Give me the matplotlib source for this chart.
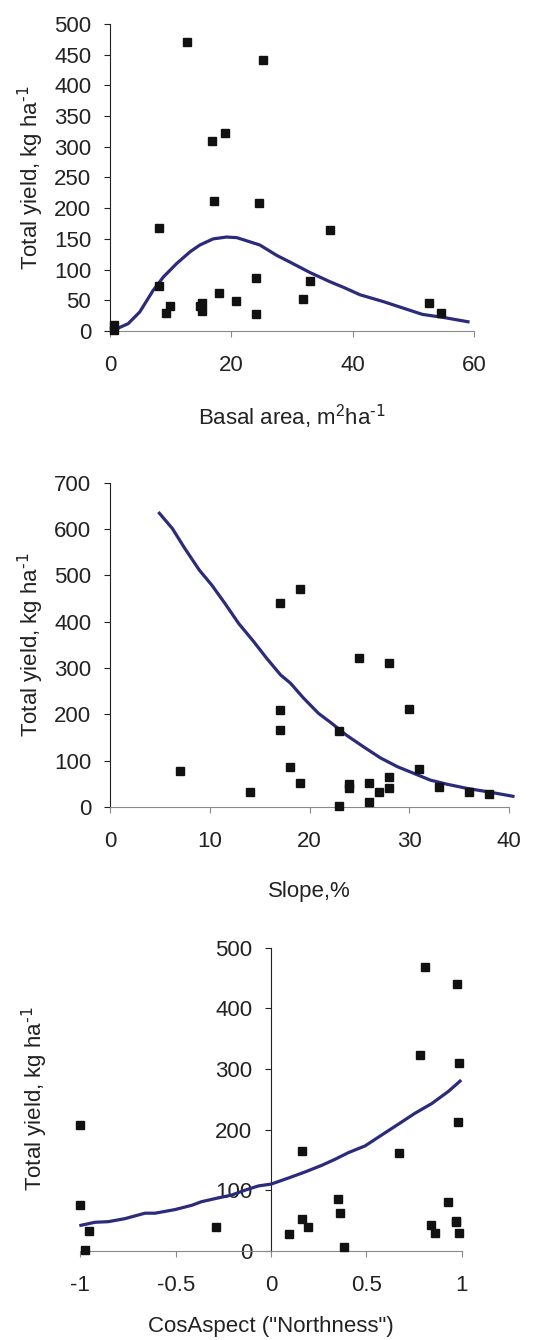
import matplotlib
matplotlib.use("Agg")
import matplotlib.pyplot as plt

plt.rcParams['font.family'] = ['Liberation Sans', 'DejaVu Sans']
plt.rcParams['mathtext.default'] = 'regular'
plt.rcParams['axes.unicode_minus'] = False

# observed points (same 24 plots in each panel)
basal_x = [0.7, 0.7, 8.0, 8.0, 9.2, 9.9, 12.7, 14.8, 15.2, 15.2, 16.8, 17.1,
           18.0, 19.0, 20.8, 24.0, 24.0, 24.6, 25.2, 31.8, 33.0, 36.2, 52.5, 54.6]
basal_y = [9, 1, 167, 74, 30, 40, 470, 40, 46, 33, 310, 211,
           62, 323, 49, 87, 27, 208, 441, 52, 81, 164, 46, 30]

# fitted curve, basal area
basal_fit_x = [0.3, 3, 4.9, 7.1, 8.8, 11, 13.2, 14.8, 17, 19.2, 20.9, 24.7,
               27.5, 29.7, 33, 36.3, 38.5, 41.2, 45, 51.5, 55, 59]
basal_fit_y = [0, 12, 31, 66, 88, 110, 129, 140, 150, 153, 152, 140,
               123, 112, 95, 80, 71, 59, 48, 27, 22, 15]

slope_x = [7, 14, 17, 17, 17, 18, 19, 19, 23, 23, 24, 24,
           25, 26, 26, 27, 28, 28, 28, 30, 31, 33, 36, 38]
slope_y = [78, 32, 440, 209, 166, 86, 470, 52, 163, 2, 49, 40,
           322, 52, 10, 32, 310, 65, 40, 212, 82, 44, 32, 27]

slope_fit_x = [4.95, 6.25, 7.5, 8.96, 10.2, 11.5, 12.9, 14.4, 15.7, 17.1, 18.1,
               19.4, 20.9, 22.2, 23.7, 25.4, 27.1, 28.8, 30.4, 32.1, 33.8,
               35.8, 37.8, 40.4]
slope_fit_y = [634, 601, 558, 511, 479, 440, 396, 357, 321, 285, 267,
               235, 202, 181, 155, 130, 106, 87, 73, 58, 49,
               40, 33, 23]

north_x = [-1.0, -1.0, -0.975, -0.957, -0.287, 0.093, 0.161, 0.161, 0.192,
           0.351, 0.36, 0.381, 0.67, 0.78, 0.808, 0.837, 0.858, 0.928,
           0.969, 0.972, 0.977, 0.979, 0.988, 0.988]
north_y = [207, 75, 1, 33, 40, 27, 165, 52, 40,
           85, 62, 7, 162, 323, 469, 42, 30, 81,
           47, 49, 440, 213, 310, 30]

north_fit_x = [-0.997, -0.923, -0.853, -0.766, -0.661, -0.608, -0.503, -0.416,
               -0.364, -0.294, -0.206, -0.136, -0.066, 0.0, 0.091, 0.178,
               0.266, 0.336, 0.406, 0.493, 0.58, 0.668, 0.755, 0.843, 0.93, 0.991]
north_fit_y = [42, 47, 48, 53, 62, 62, 68, 75,
               81, 86, 92, 100, 107, 110, 120, 130,
               141, 151, 162, 173, 191, 209, 227, 243, 263, 280]

ylab = r'Total yield, kg ha$^{\text{-1}}$'
line_col = '#2b2b7b'
txt_col = '#222222'
fs = 16

fig = plt.figure(figsize=(5.38, 13.4), dpi=100)


def style(ax):
    for s in ['top', 'right']:
        ax.spines[s].set_visible(False)
    ax.spines['left'].set_color(txt_col)
    ax.spines['bottom'].set_color('#8a8a8a')
    ax.tick_params(axis='y', direction='out', length=4.5, width=0.8,
                   color=txt_col, labelsize=fs, pad=9, labelcolor=txt_col)
    ax.tick_params(axis='x', direction='out', length=4.5, width=0.8,
                   color='#8a8a8a', labelsize=fs, pad=13, labelcolor=txt_col)


# panel 1: basal area
ax1 = fig.add_axes([0.2045, 0.7530, 0.6766, 0.2291])
ax1.plot(basal_fit_x, basal_fit_y, color=line_col, lw=2.3, zorder=2)
ax1.plot(basal_x, basal_y, 's', color='#111111', ms=6, zorder=3, clip_on=False)
ax1.set_xlim(0, 60)
ax1.set_ylim(0, 500)
ax1.set_xticks([0, 20, 40, 60])
ax1.set_yticks(range(0, 501, 50))
style(ax1)
ax1.set_ylabel(ylab, fontsize=fs, color=txt_col, labelpad=6)
ax1.set_xlabel(r'Basal area, m$^2$ha$^{\text{-1}}$', fontsize=fs, color=txt_col, labelpad=19)

# panel 2: slope
ax2 = fig.add_axes([0.2045, 0.3978, 0.7416, 0.2420])
ax2.plot(slope_fit_x, slope_fit_y, color=line_col, lw=2.3, zorder=2, clip_on=False)
ax2.plot(slope_x, slope_y, 's', color='#111111', ms=6, zorder=3, clip_on=False)
ax2.set_xlim(0, 40)
ax2.set_ylim(0, 700)
ax2.set_xticks(range(0, 41, 10))
ax2.set_yticks(range(0, 701, 100))
style(ax2)
ax2.set_ylabel(ylab, fontsize=fs, color=txt_col, labelpad=6)
ax2.set_xlabel('Slope,%', fontsize=fs, color=txt_col, labelpad=21)

# panel 3: northness
ax3 = fig.add_axes([0.1493, 0.0666, 0.7090, 0.2261])
ax3.plot(north_fit_x, north_fit_y, color=line_col, lw=2.3, zorder=4, clip_on=False)
ax3.plot(north_x, north_y, 's', color='#111111', ms=6, zorder=3, clip_on=False)
ax3.set_xlim(-1, 1)
ax3.set_ylim(0, 500)
ax3.set_xticks([-1, -0.5, 0, 0.5, 1])
ax3.set_xticklabels(['-1', '-0.5', '0', '0.5', '1'])
ax3.set_yticks(range(0, 501, 100))
style(ax3)
ax3.spines['left'].set_position(('data', 0))
ax3.set_ylabel(ylab, fontsize=fs, color=txt_col)
ax3.yaxis.set_label_coords(-0.08, 0.5)
ax3.set_xlabel('CosAspect ("Northness")', fontsize=fs, color=txt_col, labelpad=14)

fig.savefig('out.png', dpi=100)
